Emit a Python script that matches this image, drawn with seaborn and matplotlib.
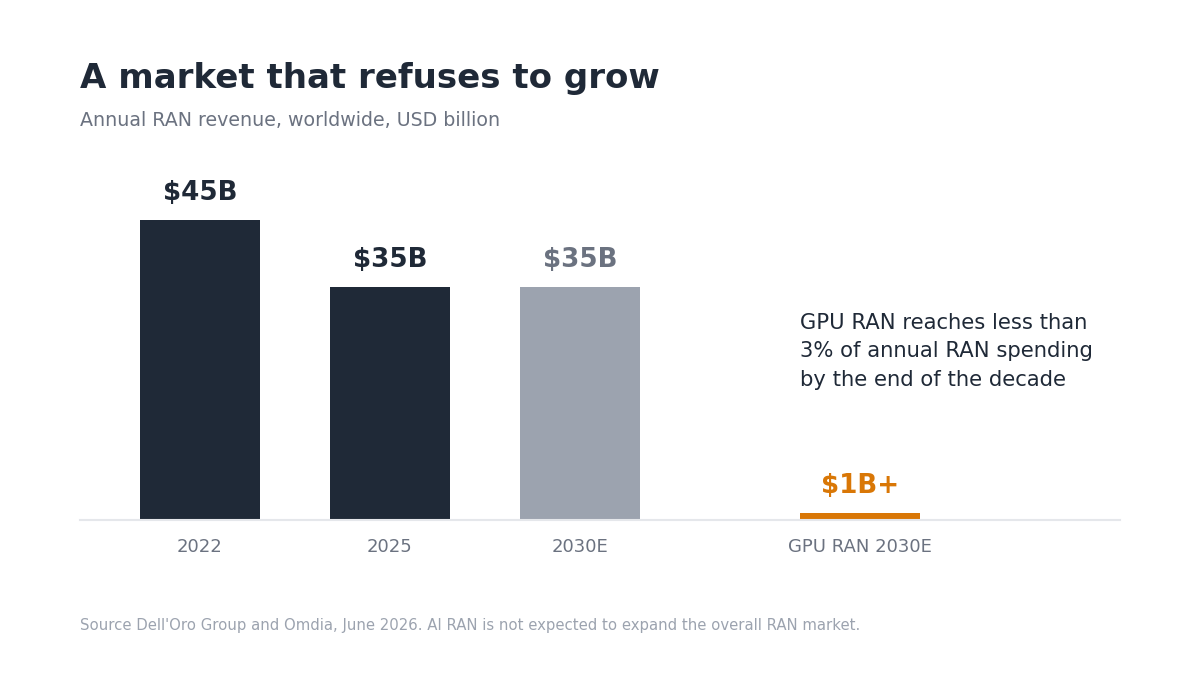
import numpy as np
import matplotlib
matplotlib.use("Agg")
import matplotlib.pyplot as plt
import seaborn as sns
import pandas as pd

# data
categories = ["2022", "2025", "2030E", "GPU RAN 2030E"]
revenue = [45, 35, 35, 1]
labels = ["$45B", "$35B", "$35B", "$1B+"]
bar_colors = ["#1f2937", "#1f2937", "#9ca3af", "#d97706"]
label_colors = ["#1f2937", "#1f2937", "#6b7280", "#d97706"]
# slot positions: GPU bar is set apart from the others
slots = [0, 1, 2, 3.474]

sns.set_theme(style="white")
plt.rcParams["font.family"] = ["DejaVu Sans"]

df = pd.DataFrame({"slot": slots, "revenue": revenue, "category": categories})

fig = plt.figure(figsize=(12, 6.75), dpi=100)
ax = fig.add_axes([80 / 1200, 155 / 675, 1040 / 1200, 350 / 675])

bar_w = 120 / 190
sns.barplot(data=df, x="slot", y="revenue", hue="category", palette=bar_colors,
            native_scale=True, width=bar_w, dodge=False, legend=False,
            saturation=1, linewidth=0, ax=ax)

ax.set_xlim(-bar_w, (1120 - 200) / 190)
ax.set_ylim(0, 350 / (300 / 45))

for s, v, lab, c in zip(slots, revenue, labels, label_colors):
    ax.annotate(lab, xy=(s, v), xytext=(0, 14.5), textcoords="offset points",
                ha="center", va="baseline", fontsize=18.8, fontweight="bold", color=c)

ax.set_xticks(slots)
ax.set_xticklabels(categories, fontsize=13, color="#6b7280")
ax.tick_params(axis="x", length=0, pad=13)
ax.set_yticks([])
ax.set_xlabel("")
ax.set_ylabel("")
for side in ["top", "right", "left"]:
    ax.spines[side].set_visible(False)
ax.spines["bottom"].set_color("#e5e7eb")
ax.spines["bottom"].set_linewidth(1.5)

fig.text(80 / 1200, 1 - 88 / 675, "A market that refuses to grow", fontsize=24.5,
         fontweight="bold", color="#1f2937", va="baseline")
fig.text(80 / 1200, 1 - 126 / 675, "Annual RAN revenue, worldwide, USD billion",
         fontsize=13.7, color="#6b7280", va="baseline")
fig.text(800 / 1200, 1 - 313 / 675,
         "GPU RAN reaches less than\n3% of annual RAN spending\nby the end of the decade",
         fontsize=15.2, color="#1f2937", va="top", linespacing=1.52)
fig.text(80 / 1200, 1 - 630 / 675,
         "Source Dell'Oro Group and Omdia, June 2026. AI RAN is not expected to expand the overall RAN market.",
         fontsize=10.75, color="#9ca3af", va="baseline")

fig.savefig("out.png", dpi=100, facecolor="white")
